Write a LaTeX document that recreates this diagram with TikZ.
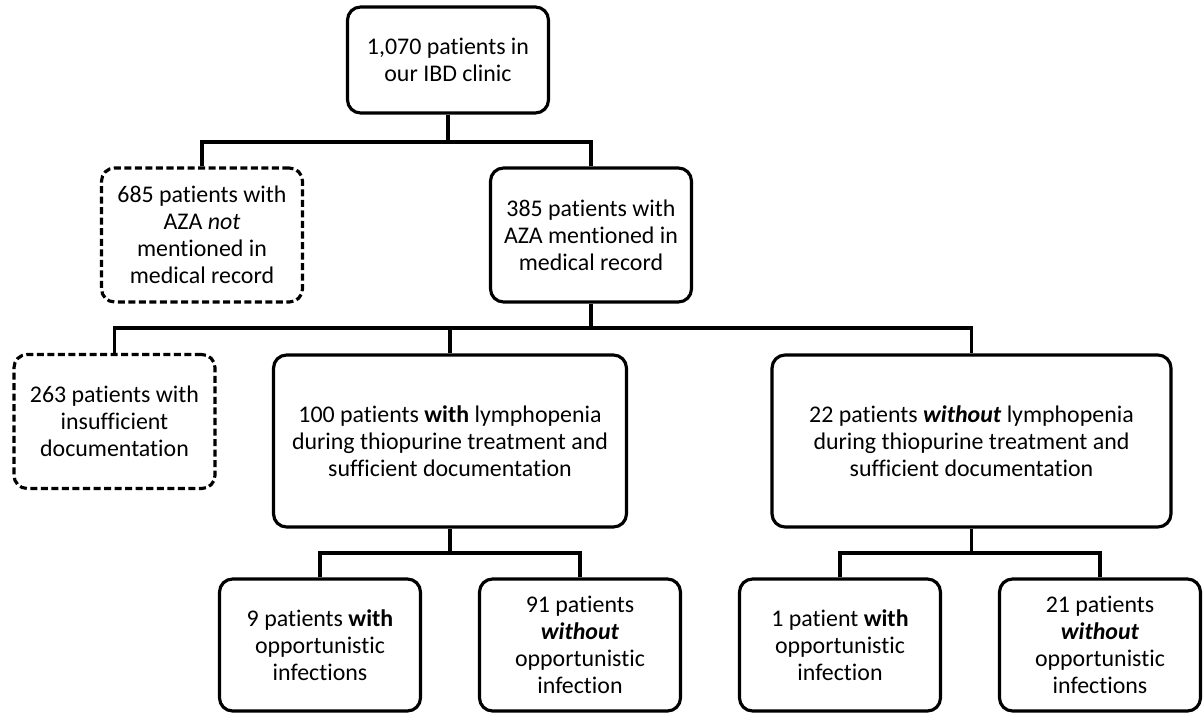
\documentclass[tikz,border=0pt]{standalone}
\usepackage{fontspec}
\setmainfont{Carlito}[Ligatures=NoCommon]
\usetikzlibrary{positioning}

\begin{document}
\begin{tikzpicture}[
    x=0.02cm, y=-0.02cm,
    % Box style - rounded black borders
    box/.style={
        rectangle,
        rounded corners=0.26cm,
        draw=black,
        line width=1.8pt,
        align=center,
        inner sep=2pt,
        font=\fontsize{13.6}{15.3}\selectfont
    },
    % Excluded box style - dashed borders
    dbox/.style={
        box,
        dash pattern=on 4pt off 2pt
    },
    % Small box style
    sbox/.style={
        box,
        minimum width=4.02cm,
        minimum height=2.68cm
    },
    % Wide box style
    wbox/.style={
        box,
        minimum height=3.44cm
    },
    % Connector style
    link/.style={
        line width=1.8pt
    }
]
\useasboundingbox (0,0) rectangle (1204,713);

% === Level 0: all patients ===
\node[box, minimum width=4.02cm, minimum height=2.12cm] (clinic) at (448, 60)
    {1,070 patients in\\our IBD clinic};

% === Level 1: AZA mentioned or not ===
\node[sbox, dbox] (noaza) at (202, 235)
    {685 patients with\\AZA \textit{not}\\mentioned in\\medical record};
\node[sbox] (aza) at (591, 235)
    {385 patients with\\AZA mentioned in\\medical record};

% === Level 2: documentation and lymphopenia ===
\node[sbox, dbox] (insuff) at (114.5, 421.5)
    {263 patients with\\insufficient\\documentation};
\node[wbox, minimum width=7.06cm] (lymph) at (450, 441)
    {100 patients \textbf{with} lymphopenia\\during thiopurine treatment and\\sufficient documentation};
\node[wbox, minimum width=7.98cm] (nolymph) at (971.5, 441)
    {22 patients \textbf{\textit{without}} lymphopenia\\during thiopurine treatment and\\sufficient documentation};

% === Level 3: opportunistic infections ===
\node[sbox, minimum height=2.64cm] (oi9) at (320, 645)
    {9 patients \textbf{with}\\opportunistic\\infections};
\node[sbox, minimum height=2.64cm] (nooi91) at (580, 645)
    {91 patients\\\textbf{\textit{without}}\\opportunistic\\infection};
\node[sbox, minimum height=2.64cm] (oi1) at (840, 645)
    {1 patient \textbf{with}\\opportunistic\\infection};
\node[sbox, minimum height=2.64cm] (nooi21) at (1100, 645)
    {21 patients\\\textbf{\textit{without}}\\opportunistic\\infections};

% === Junctions ===
\coordinate (j0) at (448, 142);
\coordinate (j1) at (591, 328);
\coordinate (j2) at (450, 553);
\coordinate (j3) at (971.5, 553);

% === Connectors ===
\draw[link] (clinic.south) -- (j0);
\draw[link] (noaza.north) |- (j0) -| (aza.north);
\draw[link] (aza.south) -- (j1);
\draw[link] (insuff.north) |- (j1) -| (nolymph.north);
\draw[link] (lymph.north) -- (lymph.north |- j1);
\draw[link] (lymph.south) -- (j2);
\draw[link] (oi9.north) |- (j2) -| (nooi91.north);
\draw[link] (nolymph.south) -- (j3);
\draw[link] (oi1.north) |- (j3) -| (nooi21.north);

\end{tikzpicture}
\end{document}
